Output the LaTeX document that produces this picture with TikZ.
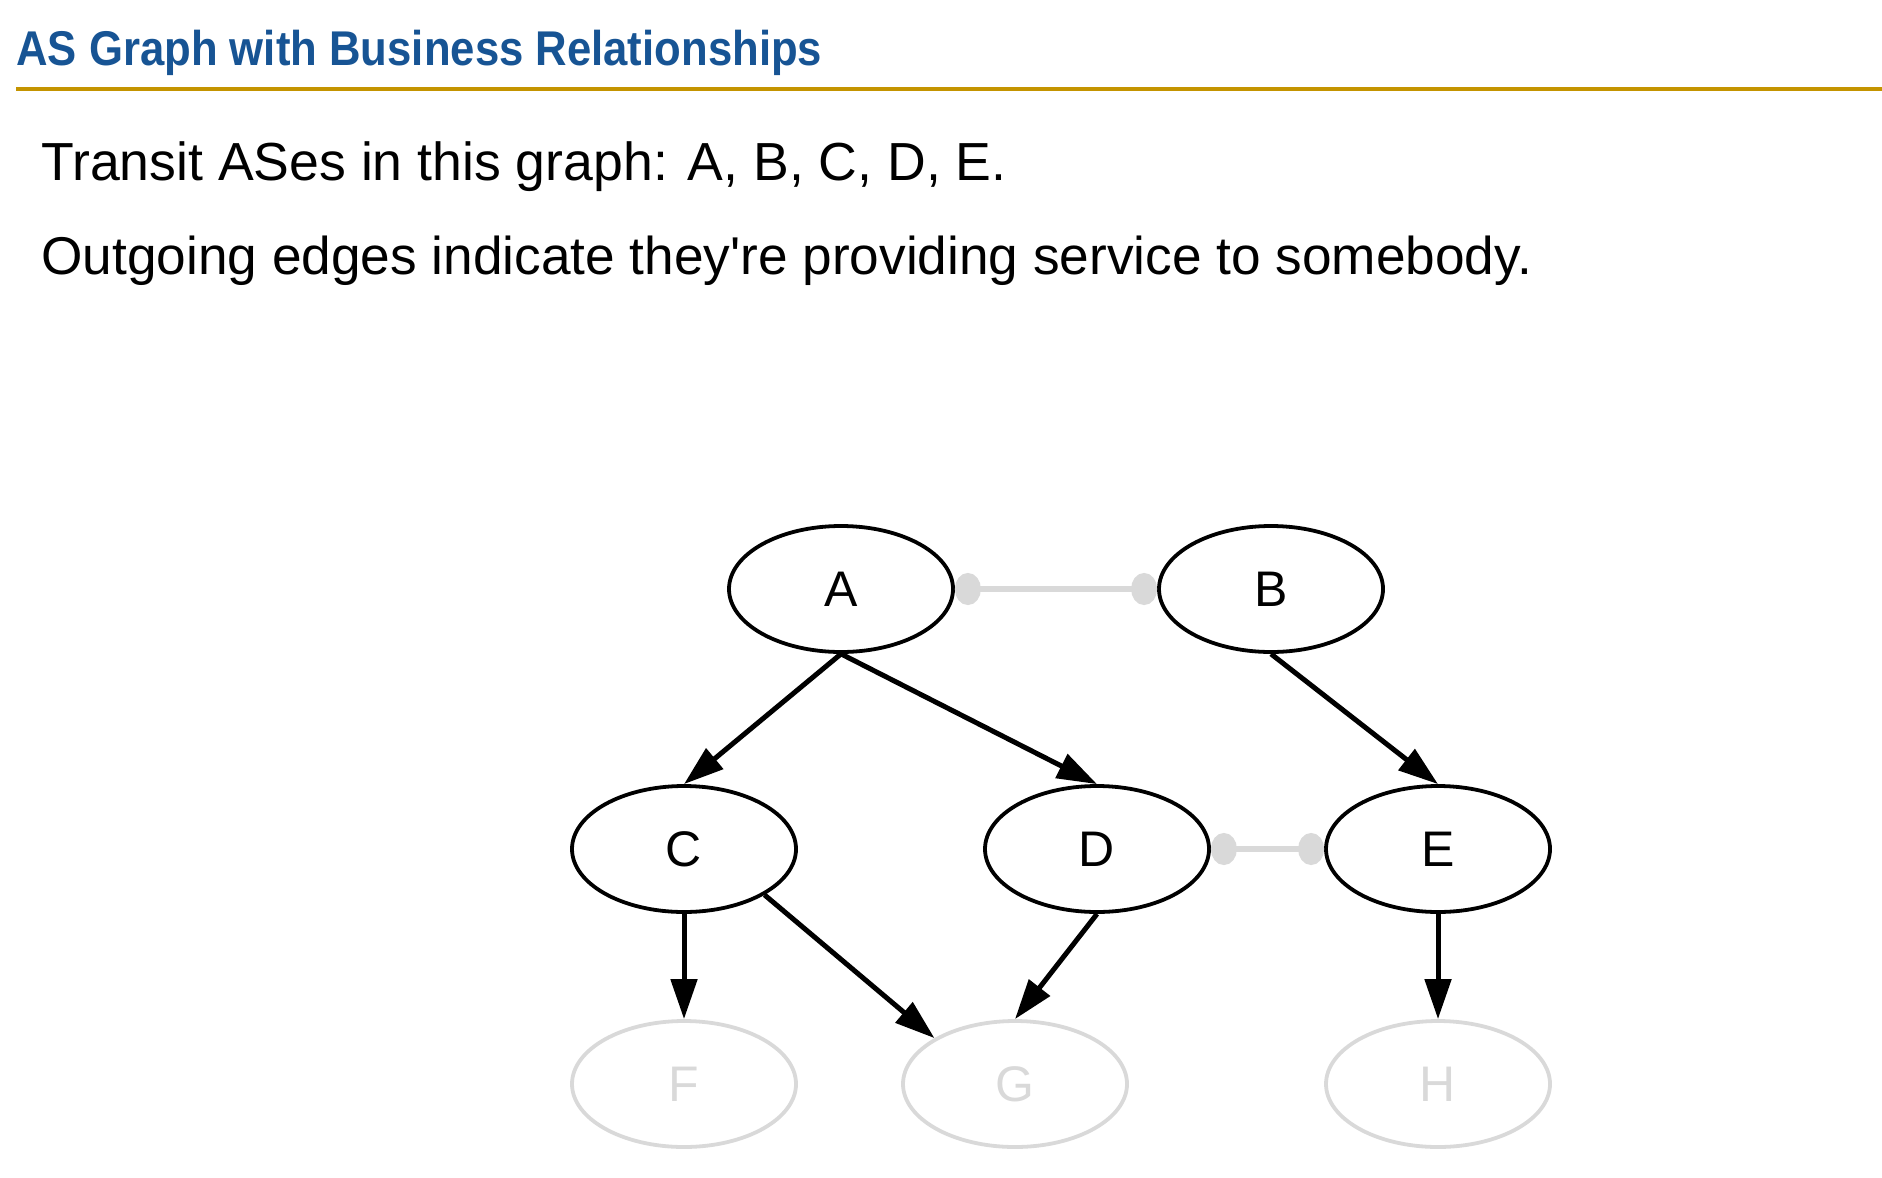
\documentclass[tikz,border=0pt]{standalone}
\usepackage{fontspec}
\setmainfont{Liberation Sans}
\newfontfamily\titlefont[FakeStretch=0.895]{Liberation Sans}
\usetikzlibrary{arrows.meta,shapes.geometric}
\definecolor{titleblue}{RGB}{23,84,148}
\definecolor{rulegold}{RGB}{196,148,0}
\definecolor{peergray}{RGB}{217,217,217}

\begin{document}
\begin{tikzpicture}[x=0.5pt,y=-0.5pt,
		as/.style={ellipse, draw=black, line width=1.9pt, minimum width=112pt, minimum height=63pt, inner sep=0pt, font=\fontsize{25}{30}\selectfont},
		stub/.style={as, draw=peergray, text=peergray},
		cust/.style={-{Triangle[length=20pt,width=13pt]}, line width=2.5pt},
		peer/.style={{Ellipse[length=13pt,width=16pt]}-{Ellipse[length=13pt,width=16pt]}, draw=peergray, line width=2.8pt}]
			\useasboundingbox (0,0) rectangle (1882,1177);
			
			% Заголовок и линия под ним
			\node[anchor=base west, inner sep=0pt, text=titleblue, font=\titlefont\fontsize{24.4}{29}\selectfont\bfseries] (title) at (16,66) {AS Graph with Business Relationships};
			\draw[rulegold, line width=2pt] (16,89) -- (1882,89);
			
			% Текст
			\node[anchor=base west, inner sep=0pt, font=\fontsize{26.8}{32}\selectfont] (line1) at (41,180) {Transit ASes in this graph: A, B, C, D, E.};
			\node[anchor=base west, inner sep=0pt, font=\fontsize{26.6}{32}\selectfont] (line2) at (41,274) {Outgoing edges indicate they\textquotesingle re providing service to somebody.};
			
			% Транзитные AS
			\node[as] (A) at (841,589) {A};
			\node[as] (B) at (1271,589) {B};
			\node[as] (C) at (684,849) {C};
			\node[as] (D) at (1097,849) {D};
			\node[as] (E) at (1438,849) {E};
			
			% Конечные AS (серые)
			\node[stub] (F) at (684,1084) {F};
			\node[stub] (G) at (1015,1084) {G};
			\node[stub] (H) at (1438,1084) {H};
			
			% Провайдер -> клиент
			\draw[cust] (A.south) -- (C.north);
			\draw[cust] (A.south) -- (D.north);
			\draw[cust] (B.south) -- (E.north);
			\draw[cust] (C.south) -- (F.north);
			\draw[cust] (C.south east) -- (G.north west);
			\draw[cust] (D.south) -- (G.north);
			\draw[cust] (E.south) -- (H.north);
			
			% Пиринг
			\draw[peer] (A.east) -- (B.west);
			\draw[peer] (D.east) -- (E.west);
			
		\end{tikzpicture}
\end{document}
